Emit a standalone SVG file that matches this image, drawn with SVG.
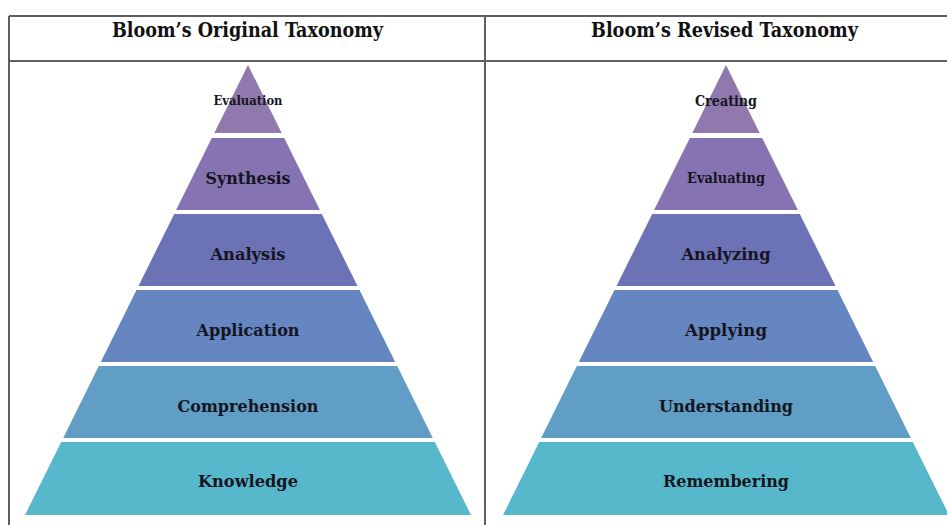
<svg xmlns="http://www.w3.org/2000/svg" width="947" height="525" viewBox="0 0 947 525">
  <style>
    .rule { stroke: #5f5f5f; stroke-width: 2; fill: none; }
    .title { font-family: "DejaVu Serif", "Liberation Serif", serif; font-stretch: condensed; font-weight: bold; font-size: 20px; fill: #111; text-anchor: middle; }
    .lbl { font-family: "DejaVu Serif", "Liberation Serif", serif; font-stretch: condensed; font-weight: bold; font-size: 16.5px; fill: #15151f; text-anchor: middle; }
    .l1 { fill: #8f79ad; }
    .l2 { fill: #8574b1; }
    .l3 { fill: #6c72b6; }
    .l4 { fill: #6586c0; }
    .l5 { fill: #609ec6; }
    .l6 { fill: #58b8cb; }
  </style>
  <rect width="947" height="525" fill="#ffffff"/>

  <!-- table frame -->
  <g id="table">
    <line class="rule" x1="9" y1="16" x2="947" y2="16"/>
    <line class="rule" x1="9" y1="61" x2="947" y2="61"/>
    <line class="rule" x1="9" y1="16" x2="9" y2="525"/>
    <line class="rule" x1="485" y1="16" x2="485" y2="525"/>
    <text class="title" x="247.5" y="37" textLength="271" lengthAdjust="spacingAndGlyphs">Bloom’s Original Taxonomy</text>
    <text class="title" x="724.5" y="37" textLength="267" lengthAdjust="spacingAndGlyphs">Bloom’s Revised Taxonomy</text>
  </g>

  <!-- original taxonomy pyramid -->
  <g id="original">
    <g id="evaluation">
      <polygon class="l1" points="248,65 214.3,133 281.7,133"/>
      <text class="lbl" x="248" y="105" style="font-size:12px" textLength="69" lengthAdjust="spacingAndGlyphs">Evaluation</text>
    </g>
    <g id="synthesis">
      <polygon class="l2" points="211.8,138 284.2,138 319.9,210 176.1,210"/>
      <text class="lbl" x="248" y="184" textLength="85" lengthAdjust="spacingAndGlyphs">Synthesis</text>
    </g>
    <g id="analysis">
      <polygon class="l3" points="174.2,214 321.8,214 357.5,286 138.5,286"/>
      <text class="lbl" x="248" y="260" textLength="75" lengthAdjust="spacingAndGlyphs">Analysis</text>
    </g>
    <g id="application">
      <polygon class="l4" points="136.5,290 359.5,290 395.2,362 100.8,362"/>
      <text class="lbl" x="248" y="336" textLength="103" lengthAdjust="spacingAndGlyphs">Application</text>
    </g>
    <g id="comprehension">
      <polygon class="l5" points="98.8,366 397.2,366 432.8,438 63.2,438"/>
      <text class="lbl" x="248" y="412" textLength="141" lengthAdjust="spacingAndGlyphs">Comprehension</text>
    </g>
    <g id="knowledge">
      <polygon class="l6" points="61.2,442 434.8,442 471,515 25,515"/>
      <text class="lbl" x="248" y="487" textLength="100" lengthAdjust="spacingAndGlyphs">Knowledge</text>
    </g>
  </g>

  <!-- revised taxonomy pyramid -->
  <g id="revised">
    <g id="creating">
      <polygon class="l1" points="726,65 692.3,133 759.7,133"/>
      <text class="lbl" x="726" y="106" style="font-size:14px" textLength="62" lengthAdjust="spacingAndGlyphs">Creating</text>
    </g>
    <g id="evaluating">
      <polygon class="l2" points="689.8,138 762.2,138 797.9,210 654.1,210"/>
      <text class="lbl" x="726" y="183" style="font-size:14px" textLength="78" lengthAdjust="spacingAndGlyphs">Evaluating</text>
    </g>
    <g id="analyzing">
      <polygon class="l3" points="652.2,214 799.8,214 835.5,286 616.5,286"/>
      <text class="lbl" x="726" y="260" textLength="89" lengthAdjust="spacingAndGlyphs">Analyzing</text>
    </g>
    <g id="applying">
      <polygon class="l4" points="614.5,290 837.5,290 873.2,362 578.8,362"/>
      <text class="lbl" x="726" y="336" textLength="82" lengthAdjust="spacingAndGlyphs">Applying</text>
    </g>
    <g id="understanding">
      <polygon class="l5" points="576.8,366 875.2,366 910.8,438 541.2,438"/>
      <text class="lbl" x="726" y="412" textLength="134" lengthAdjust="spacingAndGlyphs">Understanding</text>
    </g>
    <g id="remembering">
      <polygon class="l6" points="539.2,442 912.8,442 949,515 503,515"/>
      <text class="lbl" x="726" y="487" textLength="126" lengthAdjust="spacingAndGlyphs">Remembering</text>
    </g>
  </g>
</svg>
